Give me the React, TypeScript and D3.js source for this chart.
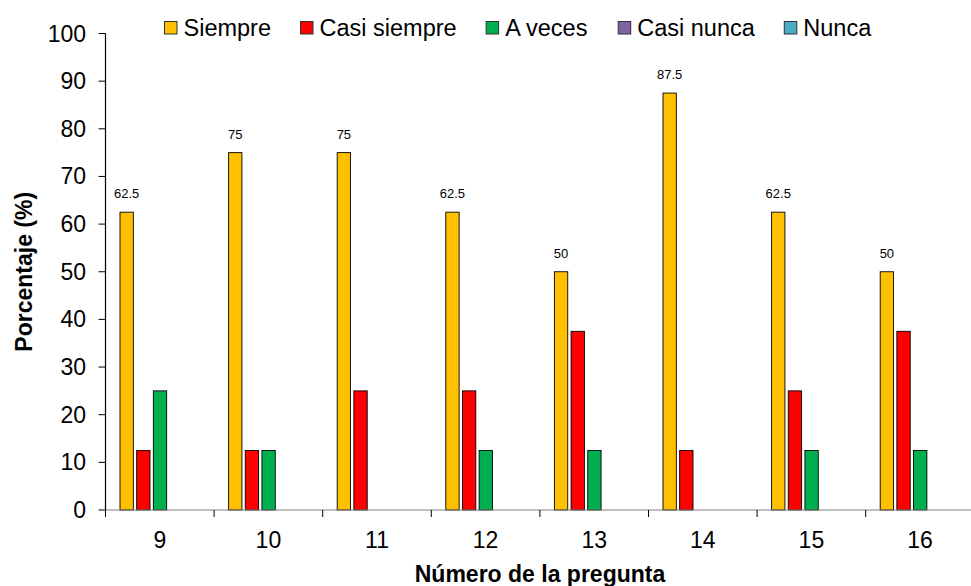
import React, { useMemo } from "react";
import * as d3 from "d3";

const categories = ["9", "10", "11", "12", "13", "14", "15", "16"];
const seriesNames = ["Siempre", "Casi siempre", "A veces", "Casi nunca", "Nunca"];
const siempre = [62.5, 75, 75, 62.5, 50, 87.5, 62.5, 50];
const casiSiempre = [12.5, 12.5, 25, 25, 37.5, 12.5, 25, 37.5];
const aVeces = [25, 12.5, 0, 12.5, 12.5, 0, 12.5, 12.5];
const casiNunca = [0, 0, 0, 0, 0, 0, 0, 0];
const nunca = [0, 0, 0, 0, 0, 0, 0, 0];
const yTicks = [0, 10, 20, 30, 40, 50, 60, 70, 80, 90, 100];
const colors = ["#FFC000", "#FF0000", "#00B050", "#8064A2", "#4BACC6"];

const W = 971;
const H = 586;
const FONT = "'Liberation Sans', Arial, sans-serif";
const LEGEND_FS = 23.5;

function measure(text: string, font: string): number {
  const c = document.createElement("canvas");
  const ctx = c.getContext("2d")!;
  ctx.font = font;
  return ctx.measureText(text).width;
}

export default function App() {
  const seriesValues = [siempre, casiSiempre, aVeces, casiNunca, nunca];
  const x = d3.scaleBand<string>().domain(categories).range([105.5, 974.3]).padding(0);
  const inner = d3
    .scaleBand<string>()
    .domain(seriesNames)
    .range([14.5, 94.5])
    .paddingInner(0.2)
    .paddingOuter(0);
  const y = d3.scaleLinear().domain([0, 100]).range([510, 33.5]);

  const legend = useMemo(() => {
    let cx = 164.5;
    return seriesNames.map((name, i) => {
      const w = measure(name, `${LEGEND_FS}px ${FONT}`);
      const item = { name, color: colors[i], x: cx };
      cx += 19 + w + 29.5;
      return item;
    });
  }, []);

  const catEdges = [...categories.map((c) => x(c)!), x(categories[categories.length - 1])! + x.bandwidth()];

  return (
    <svg
      width={W}
      height={H}
      style={{ position: "absolute", left: 0, top: 0, background: "#fff" }}
      fontFamily={FONT}
    >
      <rect x={0} y={0} width={W} height={H} fill="#fff" />
      {/* bars */}
      {seriesValues.map((vals, si) =>
        categories.map((c, ci) => {
          const v = vals[ci];
          if (v <= 0) return null;
          const bx = x(c)! + inner(seriesNames[si])!;
          return (
            <rect
              key={`${si}-${ci}`}
              x={bx}
              y={y(v)}
              width={inner.bandwidth()}
              height={y(0) - y(v)}
              fill={colors[si]}
              stroke="#000"
              strokeWidth={0.9}
            />
          );
        })
      )}
      {/* data labels */}
      {categories.map((c, ci) => (
        <text
          key={`lbl-${c}`}
          x={x(c)! + inner(seriesNames[0])! + inner.bandwidth() / 2}
          y={y(siempre[ci]) - 14}
          fontSize={13}
          textAnchor="middle"
          fill="#000"
        >
          {siempre[ci]}
        </text>
      ))}
      {/* x axis */}
      <line x1={105.5} x2={W} y1={y(0)} y2={y(0)} stroke="#808080" strokeWidth={1.2} />
      {catEdges.map((e, i) => (
        <line key={`xt-${i}`} x1={e} x2={e} y1={y(0)} y2={y(0) + 7} stroke="#000" strokeWidth={1} />
      ))}
      {categories.map((c) => (
        <text key={`xl-${c}`} x={x(c)! + x.bandwidth() / 2} y={548} fontSize={23} textAnchor="middle" fill="#000">
          {c}
        </text>
      ))}
      {/* y axis */}
      <line x1={105.5} x2={105.5} y1={y(100)} y2={y(0)} stroke="#000" strokeWidth={1.2} />
      {yTicks.map((t) => (
        <g key={`yt-${t}`}>
          <line x1={98.5} x2={105.5} y1={y(t)} y2={y(t)} stroke="#000" strokeWidth={1} />
          <text x={86} y={y(t) + 8} fontSize={23} textAnchor="end" fill="#000">
            {t}
          </text>
        </g>
      ))}
      {/* axis titles */}
      <text
        transform={`translate(32, ${(y(0) + y(100)) / 2}) rotate(-90)`}
        fontSize={23}
        fontWeight="bold"
        textAnchor="middle"
        fill="#000"
      >
        Porcentaje (%)
      </text>
      <text x={540} y={581.5} fontSize={23} fontWeight="bold" textAnchor="middle" fill="#000">
        Número de la pregunta
      </text>
      {/* legend */}
      {legend.map((l) => (
        <g key={`lg-${l.name}`}>
          <rect x={l.x} y={21.5} width={12.5} height={12.5} fill={l.color} stroke="#333" strokeWidth={1} />
          <text x={l.x + 19} y={36} fontSize={LEGEND_FS} fill="#000">
            {l.name}
          </text>
        </g>
      ))}
    </svg>
  );
}
